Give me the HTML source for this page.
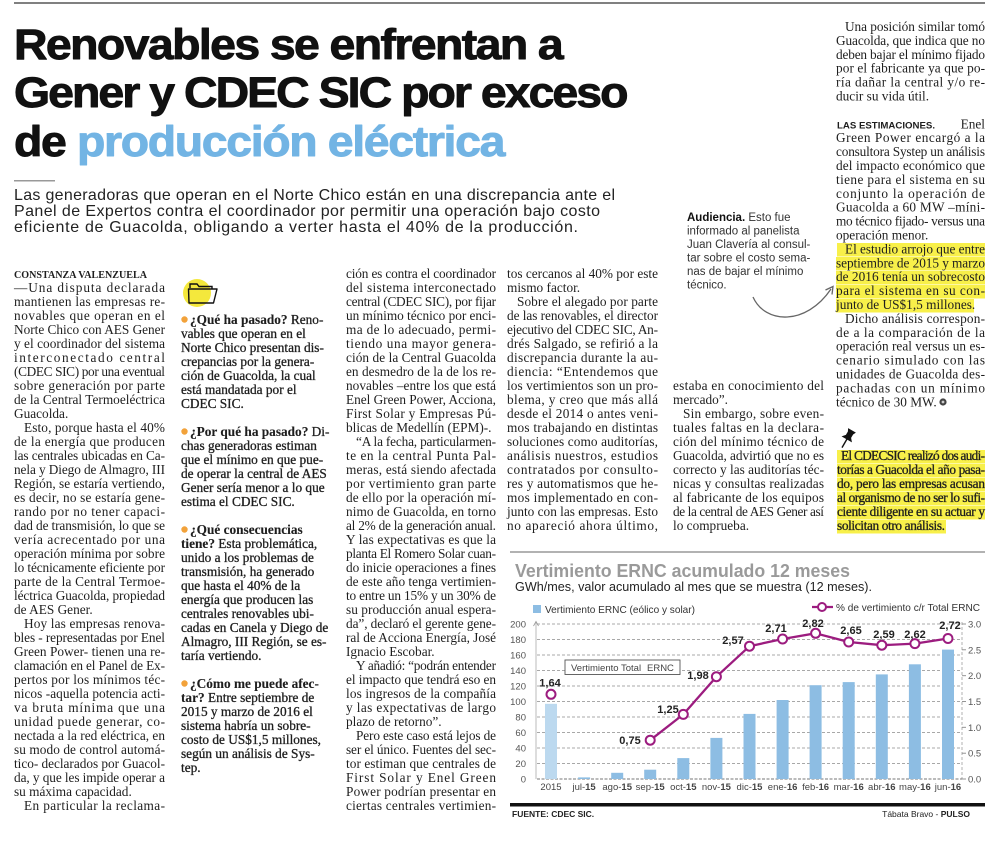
<!DOCTYPE html>
<html><head><meta charset="utf-8">
<style>
html,body{margin:0;padding:0;background:#fff;}
svg{display:block;}
.b{font-family:"Liberation Serif",serif;font-size:13.3px;fill:#1e1e1e;}
.q{font-family:"Liberation Serif",serif;font-size:13.3px;fill:#1e1e1e;stroke:#1e1e1e;stroke-width:0.3px;}
.qb{font-weight:bold;stroke-width:0.1px;}
.s{font-family:"Liberation Sans",sans-serif;}
.ax{font-family:"Liberation Sans",sans-serif;font-size:9.5px;fill:#555;}
.vl{font-family:"Liberation Sans",sans-serif;font-size:11px;font-weight:bold;fill:#222;text-anchor:middle;}
.xl{font-family:"Liberation Sans",sans-serif;font-size:9.5px;fill:#444;text-anchor:middle;}
</style></head>
<body>
<svg width="1000" height="843" viewBox="0 0 1000 843" xmlns="http://www.w3.org/2000/svg">
<rect width="1000" height="843" fill="#fff"/>
<!-- top rule -->
<rect x="14" y="2" width="971" height="2" fill="#808080"/>

<!-- headline -->
<g transform="translate(14,0) scale(1.08,1)">
<g class="s" font-weight="bold" font-size="43" fill="#111" stroke="#111" stroke-width="0.9" stroke-linejoin="round">
<text x="0" y="59" textLength="509" lengthAdjust="spacing">Renovables se enfrentan a</text>
<text x="0" y="107" textLength="569" lengthAdjust="spacing">Gener y CDEC SIC por exceso</text>
<text x="0" y="156" textLength="455" lengthAdjust="spacing">de <tspan fill="#72b4e4" stroke="#72b4e4">producción eléctrica</tspan></text>
</g>
</g>
<rect x="14" y="180" width="41" height="1.5" fill="#999"/>
<g class="s" font-size="16" fill="#222">
<text x="14" y="200" textLength="601" lengthAdjust="spacing">Las generadoras que operan en el Norte Chico están en una discrepancia ante el</text>
<text x="14" y="216" textLength="586" lengthAdjust="spacing">Panel de Expertos contra el coordinador por permitir una operación bajo costo</text>
<text x="14" y="232" textLength="564" lengthAdjust="spacing">eficiente de Guacolda, obligando a verter hasta el 40% de la producción.</text>
</g>

<!-- Column A -->
<text x="14" y="278" font-family="Liberation Serif" font-weight="bold" font-size="10" fill="#1e1e1e" textLength="133" lengthAdjust="spacingAndGlyphs">CONSTANZA VALENZUELA</text>
<g class="b">
<text x="14" y="292" textLength="151" lengthAdjust="spacing">—Una disputa declarada</text>
<text x="14" y="306" textLength="151" lengthAdjust="spacing">mantienen las empresas re-</text>
<text x="14" y="320" textLength="151" lengthAdjust="spacing">novables que operan en el</text>
<text x="14" y="334" textLength="151" lengthAdjust="spacing">Norte Chico con AES Gener</text>
<text x="14" y="348" textLength="151" lengthAdjust="spacing">y el coordinador del sistema</text>
<text x="14" y="362" textLength="151" lengthAdjust="spacing">interconectado central</text>
<text x="14" y="376" textLength="151" lengthAdjust="spacing">(CDEC SIC) por una eventual</text>
<text x="14" y="390" textLength="151" lengthAdjust="spacing">sobre generación por parte</text>
<text x="14" y="404" textLength="151" lengthAdjust="spacing">de la Central Termoeléctrica</text>
<text x="14" y="418">Guacolda.</text>
<text x="24" y="432" textLength="141" lengthAdjust="spacing">Esto, porque hasta el 40%</text>
<text x="14" y="446" textLength="151" lengthAdjust="spacing">de la energía que producen</text>
<text x="14" y="460" textLength="151" lengthAdjust="spacing">las centrales ubicadas en Ca-</text>
<text x="14" y="474" textLength="151" lengthAdjust="spacing">nela y Diego de Almagro, III</text>
<text x="14" y="488" textLength="151" lengthAdjust="spacing">Región, se estaría vertiendo,</text>
<text x="14" y="502" textLength="151" lengthAdjust="spacing">es decir, no se estaría gene-</text>
<text x="14" y="516" textLength="151" lengthAdjust="spacing">rando por no tener capaci-</text>
<text x="14" y="530" textLength="151" lengthAdjust="spacing">dad de transmisión, lo que se</text>
<text x="14" y="544" textLength="151" lengthAdjust="spacing">vería acrecentado por una</text>
<text x="14" y="558" textLength="151" lengthAdjust="spacing">operación mínima por sobre</text>
<text x="14" y="572" textLength="151" lengthAdjust="spacing">lo técnicamente eficiente por</text>
<text x="14" y="586" textLength="151" lengthAdjust="spacing">parte de la Central Termoe-</text>
<text x="14" y="600" textLength="151" lengthAdjust="spacing">léctrica Guacolda, propiedad</text>
<text x="14" y="614">de AES Gener.</text>
<text x="24" y="628" textLength="141" lengthAdjust="spacing">Hoy las empresas renova-</text>
<text x="14" y="642" textLength="151" lengthAdjust="spacing">bles - representadas por Enel</text>
<text x="14" y="656" textLength="151" lengthAdjust="spacing">Green Power- tienen una re-</text>
<text x="14" y="670" textLength="151" lengthAdjust="spacing">clamación en el Panel de Ex-</text>
<text x="14" y="684" textLength="151" lengthAdjust="spacing">pertos por los mínimos téc-</text>
<text x="14" y="698" textLength="151" lengthAdjust="spacing">nicos -aquella potencia acti-</text>
<text x="14" y="712" textLength="151" lengthAdjust="spacing">va bruta mínima que una</text>
<text x="14" y="726" textLength="151" lengthAdjust="spacing">unidad puede generar, co-</text>
<text x="14" y="740" textLength="151" lengthAdjust="spacing">nectada a la red eléctrica, en</text>
<text x="14" y="754" textLength="151" lengthAdjust="spacing">su modo de control automá-</text>
<text x="14" y="768" textLength="151" lengthAdjust="spacing">tico- declarados por Guacol-</text>
<text x="14" y="782" textLength="151" lengthAdjust="spacing">da, y que les impide operar a</text>
<text x="14" y="796">su máxima capacidad.</text>
<text x="24" y="810" textLength="141" lengthAdjust="spacing">En particular la reclama-</text>
</g>

<!-- Column B -->
<circle cx="197" cy="293" r="14" fill="#f4e83c"/>
<path d="M190 288 L190 284 L197 284 L199 286.5 L212 286.5 L212 289" fill="none" stroke="#111" stroke-width="1.4"/>
<path d="M188.5 289 L217 289 L213.5 303 L189 303 Z" fill="none" stroke="#111" stroke-width="1.4" stroke-linejoin="round"/>
<g fill="#f2a23a">
<circle cx="184.5" cy="319.5" r="3.2"/>
<circle cx="184.5" cy="431.5" r="3.2"/>
<circle cx="184.5" cy="529.5" r="3.2"/>
<circle cx="184.5" cy="683.5" r="3.2"/>
</g>
<g class="q">
<text x="190" y="324"><tspan class="qb">¿Qué ha pasado?</tspan> Reno-</text>
<text x="181" y="338">vables que operan en el</text>
<text x="181" y="352">Norte Chico presentan dis-</text>
<text x="181" y="366">crepancias por la genera-</text>
<text x="181" y="380">ción de Guacolda, la cual</text>
<text x="181" y="394">está mandatada por el</text>
<text x="181" y="408">CDEC SIC.</text>
<text x="190" y="436"><tspan class="qb">¿Por qué ha pasado?</tspan> Di-</text>
<text x="181" y="450">chas generadoras estiman</text>
<text x="181" y="464">que el mínimo en que pue-</text>
<text x="181" y="478">de operar la central de AES</text>
<text x="181" y="492">Gener sería menor a lo que</text>
<text x="181" y="506">estima el CDEC SIC.</text>
<text x="190" y="534" class="qb">¿Qué consecuencias</text>
<text x="181" y="548"><tspan class="qb">tiene?</tspan> Esta problemática,</text>
<text x="181" y="562">unido a los problemas de</text>
<text x="181" y="576">transmisión, ha generado</text>
<text x="181" y="590">que hasta el 40% de la</text>
<text x="181" y="604">energía que producen las</text>
<text x="181" y="618">centrales renovables ubi-</text>
<text x="181" y="632">cadas en Canela y Diego de</text>
<text x="181" y="646">Almagro, III Región, se es-</text>
<text x="181" y="660">taría vertiendo.</text>
<text x="190" y="688" class="qb">¿Cómo me puede afec-</text>
<text x="181" y="702"><tspan class="qb">tar?</tspan> Entre septiembre de</text>
<text x="181" y="716">2015 y marzo de 2016 el</text>
<text x="181" y="730">sistema habría un sobre-</text>
<text x="181" y="744">costo de US$1,5 millones,</text>
<text x="181" y="758">según un análisis de Sys-</text>
<text x="181" y="772">tep.</text>
</g>

<!-- Column C -->
<g class="b">
<text x="346" y="278" textLength="150" lengthAdjust="spacing">ción es contra el coordinador</text>
<text x="346" y="292" textLength="150" lengthAdjust="spacing">del sistema interconectado</text>
<text x="346" y="306" textLength="150" lengthAdjust="spacing">central (CDEC SIC), por fijar</text>
<text x="346" y="320" textLength="150" lengthAdjust="spacing">un mínimo técnico por enci-</text>
<text x="346" y="334" textLength="150" lengthAdjust="spacing">ma de lo adecuado, permi-</text>
<text x="346" y="348" textLength="150" lengthAdjust="spacing">tiendo una mayor genera-</text>
<text x="346" y="362" textLength="150" lengthAdjust="spacing">ción de la Central Guacolda</text>
<text x="346" y="376" textLength="150" lengthAdjust="spacing">en desmedro de la de los re-</text>
<text x="346" y="390" textLength="150" lengthAdjust="spacing">novables –entre los que está</text>
<text x="346" y="404" textLength="150" lengthAdjust="spacing">Enel Green Power, Acciona,</text>
<text x="346" y="418" textLength="150" lengthAdjust="spacing">First Solar y Empresas Pú-</text>
<text x="346" y="432">blicas de Medellín (EPM)-.</text>
<text x="356" y="446" textLength="140" lengthAdjust="spacing">“A la fecha, particularmen-</text>
<text x="346" y="460" textLength="150" lengthAdjust="spacing">te en la central Punta Pal-</text>
<text x="346" y="474" textLength="150" lengthAdjust="spacing">meras, está siendo afectada</text>
<text x="346" y="488" textLength="150" lengthAdjust="spacing">por vertimiento gran parte</text>
<text x="346" y="502" textLength="150" lengthAdjust="spacing">de ello por la operación mí-</text>
<text x="346" y="516" textLength="150" lengthAdjust="spacing">nimo de Guacolda, en torno</text>
<text x="346" y="530" textLength="150" lengthAdjust="spacing">al 2% de la generación anual.</text>
<text x="346" y="544" textLength="150" lengthAdjust="spacing">Y las expectativas es que la</text>
<text x="346" y="558" textLength="150" lengthAdjust="spacing">planta El Romero Solar cuan-</text>
<text x="346" y="572" textLength="150" lengthAdjust="spacing">do inicie operaciones a fines</text>
<text x="346" y="586" textLength="150" lengthAdjust="spacing">de este año tenga vertimien-</text>
<text x="346" y="600" textLength="150" lengthAdjust="spacing">to entre un 15% y un 30% de</text>
<text x="346" y="614" textLength="150" lengthAdjust="spacing">su producción anual espera-</text>
<text x="346" y="628" textLength="150" lengthAdjust="spacing">da”, declaró el gerente gene-</text>
<text x="346" y="642" textLength="150" lengthAdjust="spacing">ral de Acciona Energía, José</text>
<text x="346" y="656">Ignacio Escobar.</text>
<text x="356" y="670" textLength="140" lengthAdjust="spacing">Y añadió: “podrán entender</text>
<text x="346" y="684" textLength="150" lengthAdjust="spacing">el impacto que tendrá eso en</text>
<text x="346" y="698" textLength="150" lengthAdjust="spacing">los ingresos de la compañía</text>
<text x="346" y="712" textLength="150" lengthAdjust="spacing">y las expectativas de largo</text>
<text x="346" y="726">plazo de retorno”.</text>
<text x="356" y="740" textLength="140" lengthAdjust="spacing">Pero este caso está lejos de</text>
<text x="346" y="754" textLength="150" lengthAdjust="spacing">ser el único. Fuentes del sec-</text>
<text x="346" y="768" textLength="150" lengthAdjust="spacing">tor estiman que centrales de</text>
<text x="346" y="782" textLength="150" lengthAdjust="spacing">First Solar y Enel Green</text>
<text x="346" y="796" textLength="150" lengthAdjust="spacing">Power podrían presentar en</text>
<text x="346" y="810" textLength="150" lengthAdjust="spacing">ciertas centrales vertimien-</text>
</g>

<!-- Column D -->
<g class="b">
<text x="507" y="278" textLength="151" lengthAdjust="spacing">tos cercanos al 40% por este</text>
<text x="507" y="292">mismo factor.</text>
<text x="517" y="306" textLength="141" lengthAdjust="spacing">Sobre el alegado por parte</text>
<text x="507" y="320" textLength="151" lengthAdjust="spacing">de las renovables, el director</text>
<text x="507" y="334" textLength="151" lengthAdjust="spacing">ejecutivo del CDEC SIC, An-</text>
<text x="507" y="348" textLength="151" lengthAdjust="spacing">drés Salgado, se refirió a la</text>
<text x="507" y="362" textLength="151" lengthAdjust="spacing">discrepancia durante la au-</text>
<text x="507" y="376" textLength="151" lengthAdjust="spacing">diencia: “Entendemos que</text>
<text x="507" y="390" textLength="151" lengthAdjust="spacing">los vertimientos son un pro-</text>
<text x="507" y="404" textLength="151" lengthAdjust="spacing">blema, y creo que más allá</text>
<text x="507" y="418" textLength="151" lengthAdjust="spacing">desde el 2014 o antes veni-</text>
<text x="507" y="432" textLength="151" lengthAdjust="spacing">mos trabajando en distintas</text>
<text x="507" y="446" textLength="151" lengthAdjust="spacing">soluciones como auditorías,</text>
<text x="507" y="460" textLength="151" lengthAdjust="spacing">análisis nuestros, estudios</text>
<text x="507" y="474" textLength="151" lengthAdjust="spacing">contratados por consulto-</text>
<text x="507" y="488" textLength="151" lengthAdjust="spacing">res y automatismos que he-</text>
<text x="507" y="502" textLength="151" lengthAdjust="spacing">mos implementado en con-</text>
<text x="507" y="516" textLength="151" lengthAdjust="spacing">junto con las empresas. Esto</text>
<text x="507" y="530" textLength="151" lengthAdjust="spacing">no apareció ahora último,</text>
</g>

<!-- Annotation -->
<g class="s" font-size="11.5" fill="#333">
<text x="687" y="221"><tspan font-weight="bold" fill="#111">Audiencia.</tspan> Esto fue</text>
<text x="687" y="234.5">informado al panelista</text>
<text x="687" y="248">Juan Clavería al consul-</text>
<text x="687" y="261.5">tar sobre el costo sema-</text>
<text x="687" y="275">nas de bajar el mínimo</text>
<text x="687" y="288.5">técnico.</text>
</g>
<path d="M753 297 C 765 324, 806 326, 831 289" fill="none" stroke="#666" stroke-width="1.3"/>
<polyline points="825.5,290 833,286.5 832,294.5" fill="none" stroke="#666" stroke-width="1.3"/>

<!-- Column E -->
<g class="b">
<text x="673" y="390" textLength="151" lengthAdjust="spacing">estaba en conocimiento del</text>
<text x="673" y="404">mercado”.</text>
<text x="683" y="418" textLength="141" lengthAdjust="spacing">Sin embargo, sobre even-</text>
<text x="673" y="432" textLength="151" lengthAdjust="spacing">tuales faltas en la declara-</text>
<text x="673" y="446" textLength="151" lengthAdjust="spacing">ción del mínimo técnico de</text>
<text x="673" y="460" textLength="151" lengthAdjust="spacing">Guacolda, advirtió que no es</text>
<text x="673" y="474" textLength="151" lengthAdjust="spacing">correcto y las auditorías téc-</text>
<text x="673" y="488" textLength="151" lengthAdjust="spacing">nicas y consultas realizadas</text>
<text x="673" y="502" textLength="151" lengthAdjust="spacing">al fabricante de los equipos</text>
<text x="673" y="516" textLength="151" lengthAdjust="spacing">de la central de AES Gener así</text>
<text x="673" y="530">lo comprueba.</text>
</g>

<!-- Column F highlights -->
<g fill="#f8f04a">
<rect x="837" y="243" width="148" height="13.5"/>
<rect x="836" y="257" width="149" height="13.5"/>
<rect x="836" y="271" width="149" height="13.5"/>
<rect x="836" y="285" width="149" height="13.5"/>
<rect x="836" y="299" width="138" height="13.5"/>
<rect x="837" y="450" width="148" height="13.5"/>
<rect x="837" y="464" width="148" height="13.5"/>
<rect x="837" y="478" width="148" height="13.5"/>
<rect x="837" y="492" width="148" height="13.5"/>
<rect x="837" y="506" width="148" height="13.5"/>
<rect x="837" y="520" width="109" height="13.5"/>
</g>

<!-- Column F -->
<g class="b">
<text x="845" y="31" textLength="140" lengthAdjust="spacing">Una posición similar tomó</text>
<text x="836" y="44.9" textLength="149" lengthAdjust="spacing">Guacolda, que indica que no</text>
<text x="836" y="58.8" textLength="149" lengthAdjust="spacing">deben bajar el mínimo fijado</text>
<text x="836" y="72.7" textLength="149" lengthAdjust="spacing">por el fabricante ya que po-</text>
<text x="836" y="86.6" textLength="149" lengthAdjust="spacing">ría dañar la central y/o re-</text>
<text x="836" y="100.5">ducir su vida útil.</text>
<text x="985" y="128.3" text-anchor="end">Enel</text>
<text x="836" y="142.2" textLength="149" lengthAdjust="spacing">Green Power encargó a la</text>
<text x="836" y="156.1" textLength="149" lengthAdjust="spacing">consultora Systep un análisis</text>
<text x="836" y="170" textLength="149" lengthAdjust="spacing">del impacto económico que</text>
<text x="836" y="183.9" textLength="149" lengthAdjust="spacing">tiene para el sistema en su</text>
<text x="836" y="197.8" textLength="149" lengthAdjust="spacing">conjunto la operación de</text>
<text x="836" y="211.7" textLength="149" lengthAdjust="spacing">Guacolda a 60 MW –míni-</text>
<text x="836" y="225.6" textLength="149" lengthAdjust="spacing">mo técnico fijado- versus una</text>
<text x="836" y="239.5">operación menor.</text>
<text x="845" y="253.4" textLength="140" lengthAdjust="spacing">El estudio arrojo que entre</text>
<text x="836" y="267.3" textLength="149" lengthAdjust="spacing">septiembre de 2015 y marzo</text>
<text x="836" y="281.2" textLength="149" lengthAdjust="spacing">de 2016 tenía un sobrecosto</text>
<text x="836" y="295.1" textLength="149" lengthAdjust="spacing">para el sistema en su con-</text>
<text x="836" y="309">junto de US$1,5 millones.</text>
<text x="845" y="322.9" textLength="140" lengthAdjust="spacing">Dicho análisis correspon-</text>
<text x="836" y="336.8" textLength="149" lengthAdjust="spacing">de a la comparación de la</text>
<text x="836" y="350.7" textLength="149" lengthAdjust="spacing">operación real versus un es-</text>
<text x="836" y="364.6" textLength="149" lengthAdjust="spacing">cenario simulado con las</text>
<text x="836" y="378.5" textLength="149" lengthAdjust="spacing">unidades de Guacolda des-</text>
<text x="836" y="392.4" textLength="149" lengthAdjust="spacing">pachadas con un mínimo</text>
<text x="836" y="406.3">técnico de 30 MW.</text>
</g>
<text x="837" y="128.3" font-family="Liberation Sans" font-weight="bold" font-size="9" fill="#1e1e1e" textLength="98" lengthAdjust="spacingAndGlyphs">LAS ESTIMACIONES.</text>
<circle cx="943" cy="402" r="3.6" fill="#444"/>
<circle cx="943" cy="402" r="1.4" fill="#ccc"/>

<!-- pin -->
<g transform="translate(847,439) rotate(30)">
<path d="M-4.5,-10 L4.5,-10 L3,-7 L3,-3 L6,0.5 L-6,0.5 L-3,-3 L-3,-7 Z" fill="#111"/>
<line x1="0" y1="0" x2="0" y2="10" stroke="#111" stroke-width="1.4"/>
</g>
<g class="q">
<text x="841" y="460" textLength="144" lengthAdjust="spacing">El CDECSIC realizó dos audi-</text>
<text x="837" y="474" textLength="148" lengthAdjust="spacing">torías a Guacolda el año pasa-</text>
<text x="837" y="488" textLength="148" lengthAdjust="spacing">do, pero las empresas acusan</text>
<text x="837" y="502" textLength="148" lengthAdjust="spacing">al organismo de no ser lo sufi-</text>
<text x="837" y="516" textLength="148" lengthAdjust="spacing">ciente diligente en su actuar y</text>
<text x="837" y="530" textLength="108" lengthAdjust="spacing">solicitan otro análisis.</text>
</g>

<!-- CHART -->
<line x1="510" y1="552" x2="985" y2="552" stroke="#999" stroke-width="1.5"/>
<text x="515" y="577" class="s" font-weight="bold" font-size="18.5" fill="#9a9a9a" textLength="335" lengthAdjust="spacingAndGlyphs">Vertimiento ERNC acumulado 12 meses</text>
<text x="515" y="591" class="s" font-size="13" fill="#222" textLength="357" lengthAdjust="spacingAndGlyphs">GWh/mes, valor acumulado al mes que se muestra (12 meses).</text>

<!-- legend -->
<rect x="533" y="605" width="8" height="8" fill="#8dbde3"/>
<text x="545" y="613" class="s" font-size="10.5" fill="#333" textLength="150" lengthAdjust="spacingAndGlyphs">Vertimiento ERNC (eólico y solar)</text>
<line x1="812" y1="607" x2="833" y2="607" stroke="#9c1c7f" stroke-width="2.2"/>
<circle cx="822" cy="607" r="4" fill="#fff" stroke="#9c1c7f" stroke-width="2"/>
<text x="836" y="611" class="s" font-size="10.5" fill="#333" textLength="144" lengthAdjust="spacingAndGlyphs">% de vertimiento c/r Total ERNC</text>

<!-- grid -->
<g stroke="#a8a8a8" stroke-width="0.9" stroke-dasharray="3,2">
<line x1="537" y1="624" x2="962" y2="624"/>
<line x1="537" y1="639.5" x2="962" y2="639.5"/>
<line x1="537" y1="655" x2="962" y2="655"/>
<line x1="537" y1="670.5" x2="962" y2="670.5"/>
<line x1="537" y1="686" x2="962" y2="686"/>
<line x1="537" y1="701.5" x2="962" y2="701.5"/>
<line x1="537" y1="717" x2="962" y2="717"/>
<line x1="537" y1="732.5" x2="962" y2="732.5"/>
<line x1="537" y1="748" x2="962" y2="748"/>
<line x1="537" y1="763.5" x2="962" y2="763.5"/>
<line x1="962" y1="622" x2="962" y2="779"/>
</g>
<line x1="537" y1="779" x2="962" y2="779" stroke="#777" stroke-width="1" stroke-dasharray="3,1.5"/>
<line x1="536" y1="622" x2="536" y2="779" stroke="#aaa" stroke-width="0.8"/>
<polyline points="533.5,626 536,621.5 538.5,626" fill="none" stroke="#999" stroke-width="0.8"/>
<g stroke="#888" stroke-width="0.9">
<line x1="962" y1="624" x2="966" y2="624"/>
<line x1="962" y1="649.8" x2="966" y2="649.8"/>
<line x1="962" y1="675.7" x2="966" y2="675.7"/>
<line x1="962" y1="701.5" x2="966" y2="701.5"/>
<line x1="962" y1="727.3" x2="966" y2="727.3"/>
<line x1="962" y1="753.2" x2="966" y2="753.2"/>
<line x1="962" y1="779" x2="966" y2="779"/>
</g>

<!-- y labels -->
<g class="ax" text-anchor="end">
<text x="526" y="627.5">200</text>
<text x="526" y="643">180</text>
<text x="526" y="658.5">160</text>
<text x="526" y="674">140</text>
<text x="526" y="689.5">120</text>
<text x="526" y="705">100</text>
<text x="526" y="720.5">80</text>
<text x="526" y="736">60</text>
<text x="526" y="751.5">40</text>
<text x="526" y="767">20</text>
<text x="526" y="782.5">0</text>
</g>
<g class="ax">
<text x="968" y="627.5">3.0</text>
<text x="968" y="653.3">2.5</text>
<text x="968" y="679.2">2.0</text>
<text x="968" y="705">1.5</text>
<text x="968" y="730.8">1.0</text>
<text x="968" y="756.7">0.5</text>
<text x="968" y="782.5">0.0</text>
</g>

<!-- box label -->
<rect x="565" y="660" width="115" height="14.5" fill="#fff" stroke="#555" stroke-width="0.9"/>
<text x="571" y="670.8" class="s" font-size="9.5" fill="#444">Vertimiento Total</text>
<text x="647" y="670.8" class="s" font-size="9.5" fill="#444">ERNC</text>

<!-- bars -->
<rect x="545" y="703.8" width="12" height="75.2" fill="#bcd9ef"/>
<g fill="#8dbde3">
<rect x="578.1" y="777.4" width="12" height="1.6"/>
<rect x="611.2" y="772.8" width="12" height="6.2"/>
<rect x="644.2" y="769.7" width="12" height="9.3"/>
<rect x="677.3" y="758.1" width="12" height="20.9"/>
<rect x="710.4" y="737.9" width="12" height="41.1"/>
<rect x="743.5" y="713.9" width="12" height="65.1"/>
<rect x="776.6" y="700" width="12" height="79"/>
<rect x="809.6" y="685.2" width="12" height="93.8"/>
<rect x="842.7" y="682.1" width="12" height="96.9"/>
<rect x="875.8" y="674.4" width="12" height="104.6"/>
<rect x="908.9" y="664.3" width="12" height="114.7"/>
<rect x="942" y="649.6" width="12" height="129.4"/>
</g>

<!-- line -->
<polyline points="650.2,740.2 683.3,714.4 716.4,676.7 749.5,646.2 782.6,639 815.6,633.3 848.7,642 881.8,645.2 914.9,643.6 948,638.5" fill="none" stroke="#9c1c7f" stroke-width="2.3" stroke-linejoin="round"/>
<g fill="#fff" stroke="#9c1c7f" stroke-width="2">
<circle cx="551" cy="694.3" r="4.5"/>
<circle cx="650.2" cy="740.2" r="4.5"/>
<circle cx="683.3" cy="714.4" r="4.5"/>
<circle cx="716.4" cy="676.7" r="4.5"/>
<circle cx="749.5" cy="646.2" r="4.5"/>
<circle cx="782.6" cy="639" r="4.5"/>
<circle cx="815.6" cy="633.3" r="4.5"/>
<circle cx="848.7" cy="642" r="4.5"/>
<circle cx="881.8" cy="645.2" r="4.5"/>
<circle cx="914.9" cy="643.6" r="4.5"/>
<circle cx="948" cy="638.5" r="4.5"/>
</g>

<!-- value labels -->
<g class="vl">
<text x="550" y="686.5">1,64</text>
<text x="630" y="744">0,75</text>
<text x="668" y="713">1,25</text>
<text x="698" y="679">1,98</text>
<text x="733" y="644">2,57</text>
<text x="776" y="632">2,71</text>
<text x="813" y="627">2,82</text>
<text x="851" y="634">2,65</text>
<text x="884" y="638">2,59</text>
<text x="915" y="638">2,62</text>
<text x="950" y="629">2,72</text>
</g>

<!-- x labels -->
<g class="xl">
<text x="551" y="790">2015</text>
<text x="584.1" y="790">jul-<tspan font-weight="bold">15</tspan></text>
<text x="617.2" y="790">ago-<tspan font-weight="bold">15</tspan></text>
<text x="650.2" y="790">sep-<tspan font-weight="bold">15</tspan></text>
<text x="683.3" y="790">oct-<tspan font-weight="bold">15</tspan></text>
<text x="716.4" y="790">nov-<tspan font-weight="bold">15</tspan></text>
<text x="749.5" y="790">dic-<tspan font-weight="bold">15</tspan></text>
<text x="782.6" y="790">ene-<tspan font-weight="bold">16</tspan></text>
<text x="815.6" y="790">feb-<tspan font-weight="bold">16</tspan></text>
<text x="848.7" y="790">mar-<tspan font-weight="bold">16</tspan></text>
<text x="881.8" y="790">abr-<tspan font-weight="bold">16</tspan></text>
<text x="914.9" y="790">may-<tspan font-weight="bold">16</tspan></text>
<text x="948" y="790">jun-<tspan font-weight="bold">16</tspan></text>
</g>

<!-- footer -->
<rect x="510" y="803" width="475" height="3.5" fill="#111"/>
<text x="512" y="817" class="s" font-size="8.5" font-weight="bold" fill="#222">FUENTE: CDEC SIC.</text>
<text x="970" y="817" class="s" font-size="8.5" fill="#222" text-anchor="end">Tábata Bravo - <tspan font-weight="bold">PULSO</tspan></text>
</svg>
</body></html>
